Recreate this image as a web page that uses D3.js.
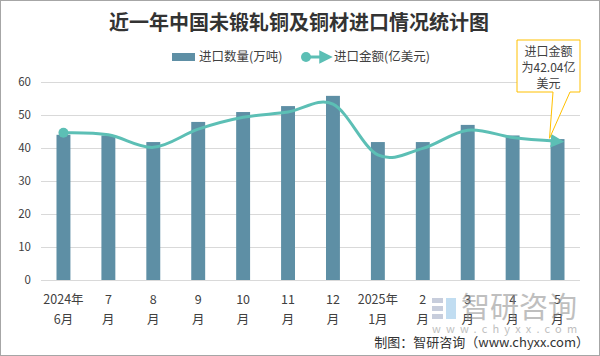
<!DOCTYPE html>
<html><head><meta charset="utf-8">
<script src="https://cdn.jsdelivr.net/npm/d3@7"></script>
<style>body{margin:0;background:#fff;}svg{display:block;font-family:"Noto Sans CJK SC","Noto Sans",sans-serif;}</style>
</head><body><svg id="c" width="600" height="356"></svg>
<script>
const categoriesTop = ["2024年","7","8","9","10","11","12","2025年","2","3","4","5"];
const categoriesBottom = ["6月","月","月","月","月","月","月","1月","月","月","月","月"];
const quantity = [44, 43.8, 41.8, 47.9, 50.9, 52.7, 55.8, 41.8, 41.8, 47.0, 43.8, 42.7];
const amount = [44.6, 44.0, 40.2, 45.7, 49.3, 50.9, 53.3, 37.9, 39.9, 45.4, 43.2, 42.04];
const yTicks = [0,10,20,30,40,50,60];
const title = "近一年中国未锻轧铜及铜材进口情况统计图";
const legendNames = ["进口数量(万吨)","进口金额(亿美元)"];
const calloutLines = ["进口金额","为42.04亿","美元"];

const svg = d3.select("#c");
const W=600,H=356;
const barColor="#5E8FA5", lineColor="#5CBFB5", gridColor="#d9d9d9";
const m={l:41,r:20,t:82,b:76};
const x = d3.scaleBand().domain(d3.range(categoriesTop.length)).range([m.l, W-m.r]).paddingInner(0.69).paddingOuter(0.345);
const y = d3.scaleLinear().domain([0,60]).range([280,82]);

// border
svg.append("rect").attr("x",0.5).attr("y",0.5).attr("width",W-1).attr("height",H-1).attr("fill","#fff").attr("stroke","#a6a6a6");

// title
svg.append("text").attr("x",299).attr("y",30).attr("text-anchor","middle")
  .attr("font-size",20).attr("font-weight","bold").attr("fill","#333").text(title);

// grid
svg.append("g").selectAll("line").data(yTicks).join("line")
  .attr("x1",m.l).attr("x2",W-m.r).attr("y1",d=>y(d)+0.5).attr("y2",d=>y(d)+0.5)
  .attr("stroke",gridColor).attr("stroke-width",1);
// y labels
svg.append("g").selectAll("text").data(yTicks).join("text")
  .attr("x",31).attr("y",d=>y(d)).attr("dy","0.35em").attr("text-anchor","end")
  .attr("font-size",11.5).attr("fill","#404040").text(d=>d);

// bars
svg.append("g").selectAll("rect").data(quantity).join("rect")
  .attr("x",(d,i)=>x(i)).attr("width",x.bandwidth())
  .attr("y",d=>y(d)).attr("height",d=>y(0)-y(d)).attr("fill",barColor);

// x labels
const xl = svg.append("g").selectAll("g").data(categoriesTop).join("g");
xl.append("text").attr("x",(d,i)=>x(i)+x.bandwidth()/2).attr("y",304).attr("text-anchor","middle")
  .attr("font-size",12.5).attr("fill","#404040").text(d=>d);
xl.append("text").attr("x",(d,i)=>x(i)+x.bandwidth()/2).attr("y",324).attr("text-anchor","middle")
  .attr("font-size",12.5).attr("fill","#404040").text((d,i)=>categoriesBottom[i]);

// watermark
const wm = svg.append("g").attr("opacity",0.55);
wm.append("rect").attr("x",432).attr("y",298).attr("width",11).attr("height",5).attr("fill","#9aa6c0");
wm.append("rect").attr("x",432).attr("y",306).attr("width",11).attr("height",5).attr("fill","#9aa6c0");
wm.append("rect").attr("x",432).attr("y",314).attr("width",11).attr("height",5).attr("fill","#9aa6c0");
wm.append("rect").attr("x",446).attr("y",298).attr("width",10).attr("height",21).attr("fill","#8fc3e6");
wm.append("text").attr("x",461).attr("y",318).attr("font-size",29).attr("fill","#8c8c8c").text("智研咨询");
wm.append("text").attr("x",432).attr("y",333).attr("font-size",11).attr("fill","#8c8c8c")
  .attr("letter-spacing","5.2px").text("www.chyxx.com");

// line
const cx = i=>x(i)+x.bandwidth()/2;
const line = d3.line().x((d,i)=>cx(i)).y(d=>y(d)).curve(d3.curveCardinal.tension(0));
svg.append("defs").append("marker").attr("id","arr").attr("viewBox","0 0 10 10")
  .attr("refX",5).attr("refY",5).attr("markerWidth",4.5).attr("markerHeight",4.5).attr("orient","auto")
  .append("path").attr("d","M0,0L10,5L0,10z").attr("fill",lineColor);
svg.append("path").datum(amount).attr("d",line).attr("fill","none").attr("stroke",lineColor)
  .attr("stroke-width",3).attr("marker-end","url(#arr)");
svg.append("circle").attr("cx",cx(0)).attr("cy",y(amount[0])).attr("r",5).attr("fill",lineColor);

// legend
const lg = svg.append("g");
lg.append("rect").attr("x",172).attr("y",53).attr("width",23).attr("height",8).attr("fill",barColor);
lg.append("text").attr("x",199).attr("y",57).attr("dy","0.35em").attr("font-size",12.5).attr("fill","#404040").text(legendNames[0]);
lg.append("line").attr("x1",305).attr("x2",326).attr("y1",57).attr("y2",57).attr("stroke",lineColor).attr("stroke-width",3).attr("marker-end","url(#arr)");
lg.append("circle").attr("cx",306).attr("cy",57).attr("r",5).attr("fill",lineColor);
lg.append("text").attr("x",334).attr("y",57).attr("dy","0.35em").attr("font-size",12.5).attr("fill","#404040").text(legendNames[1]);

// callout
const last = amount.length-1;
const tipX = cx(last)-8, tipY = y(amount[last])-3;
const bx0=517, bx1=580, by0=40, by1=92;
svg.append("path").attr("d",`M${bx0},${by0}H${bx1}V${by1}H570L${tipX},${tipY}L553,${by1}H${bx0}Z`)
  .attr("fill","#fff").attr("stroke","#FFC000").attr("stroke-width",1);
svg.append("g").selectAll("text").data(calloutLines).join("text")
  .attr("x",(bx0+bx1)/2).attr("y",(d,i)=>52+i*16).attr("dy","0.35em").attr("text-anchor","middle")
  .attr("font-size",12).attr("fill","#404040").text(d=>d);

// footer
svg.append("text").attr("x",589).attr("y",347).attr("text-anchor","end").attr("font-size",13).attr("fill","#333")
  .text("制图：智研咨询（www.chyxx.com）");
</script></body></html>
